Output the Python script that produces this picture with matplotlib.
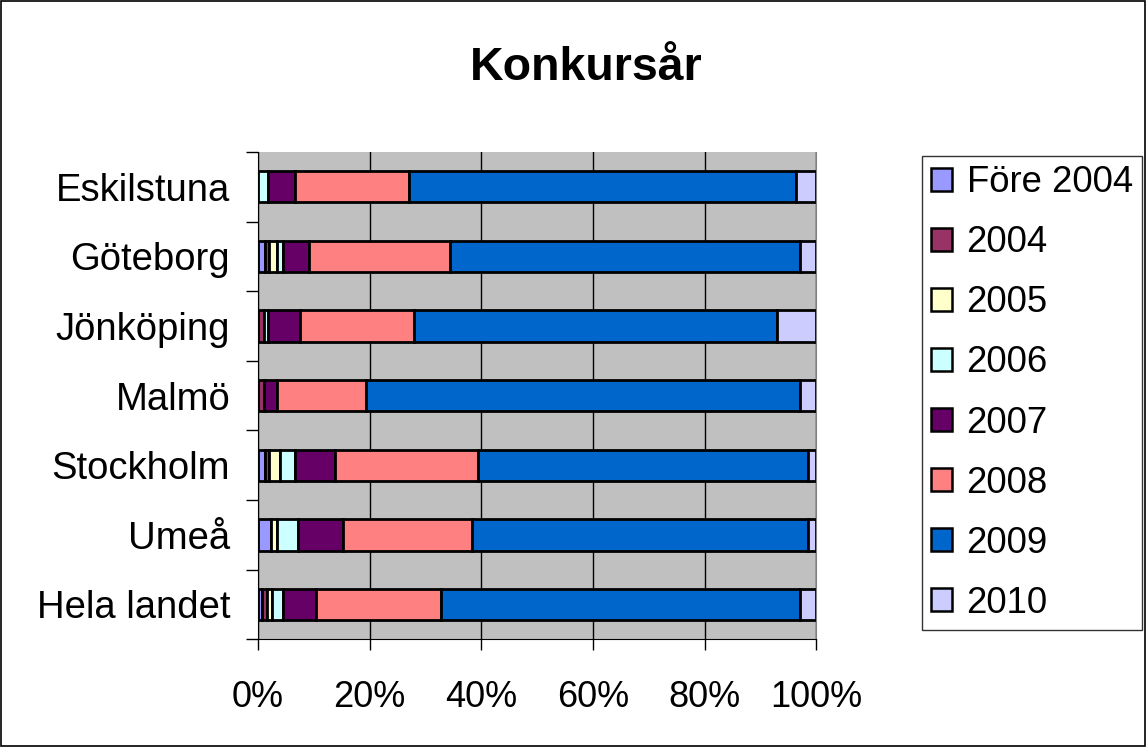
import matplotlib.pyplot as plt
import numpy as np
from matplotlib.patches import Rectangle
from matplotlib.ticker import MultipleLocator, FixedLocator, PercentFormatter

plt.rcParams['font.family'] = ['Liberation Sans', 'DejaVu Sans']

# andel konkurser per startår (%), en rad per ort
orter = ['Eskilstuna', 'Göteborg', 'Jönköping', 'Malmö', 'Stockholm', 'Umeå', 'Hela landet']
ar = ['Före 2004', '2004', '2005', '2006', '2007', '2008', '2009', '2010']
fore_2004 = [0.0, 1.2, 0.0, 0.0, 1.2, 2.4, 0.7]
ar_2004 = [0.0, 0.8, 1.0, 1.0, 0.8, 0.0, 0.9]
ar_2005 = [0.0, 1.4, 0.0, 0.0, 2.0, 1.0, 0.9]
ar_2006 = [1.8, 1.1, 0.8, 0.0, 2.6, 3.7, 2.0]
ar_2007 = [4.8, 4.6, 5.8, 2.4, 7.1, 8.1, 5.8]
ar_2008 = [20.4, 25.2, 20.4, 16.0, 25.7, 23.2, 22.5]
ar_2009 = [69.4, 62.7, 64.9, 77.6, 59.1, 60.1, 64.2]
ar_2010 = [3.6, 3.0, 7.1, 3.0, 1.5, 1.5, 3.0]
farger = ['#9999FF', '#993366', '#FFFFCC', '#CCFFFF', '#660066', '#FF8080', '#0066CC', '#CCCCFF']

serier = [fore_2004, ar_2004, ar_2005, ar_2006, ar_2007, ar_2008, ar_2009, ar_2010]

fig = plt.figure(figsize=(11.46, 7.47), dpi=100)
ax = fig.add_axes([258 / 1146, 1 - 639.3 / 747, 558.4 / 1146, 487.3 / 747])
ax.set_facecolor('#C0C0C0')

y = np.arange(len(orter))
left = np.zeros(len(orter))
for namn, vals, c in zip(ar, serier, farger):
    vals = np.array(vals) / 100
    ax.barh(y, vals, left=left, height=0.45, color=c, edgecolor='black',
            linewidth=2.0, label=namn, zorder=3)
    left += vals

ax.set_xlim(0, 1)
ax.set_ylim(len(orter) - 0.5, -0.5)
ax.xaxis.set_major_locator(MultipleLocator(0.2))
ax.xaxis.set_major_formatter(PercentFormatter(1.0, decimals=0))
ax.grid(axis='x', color='black', linewidth=1, zorder=1)
ax.set_yticks(y)
ax.set_yticklabels(orter)
ax.yaxis.set_minor_locator(FixedLocator(np.arange(-0.5, len(orter), 1)))
ax.tick_params(axis='y', which='major', length=0, pad=20, labelsize=27.5)
ax.tick_params(axis='y', which='minor', length=9, width=1, direction='out')
ax.tick_params(axis='x', length=8, width=1, direction='out', pad=21, labelsize=26)
ax.spines['top'].set_visible(False)
ax.spines['right'].set_color('#808080')
ax.spines['left'].set_color('black')
ax.spines['bottom'].set_color('black')

fig.text(586 / 1146, 1 - 68 / 747, 'Konkursår', ha='center', va='center',
         fontsize=33.5, fontweight='bold')

leg = fig.legend(loc='center left', bbox_to_anchor=(922 / 1146, 1 - 393 / 747),
                 fontsize=26.3, frameon=True, fancybox=False, edgecolor='black',
                 handlelength=0.58, handleheight=0.58, handletextpad=0.39,
                 labelspacing=0.685, borderpad=0.25, borderaxespad=0)
leg.get_frame().set_linewidth(1)
for h in leg.legend_handles:
    h.set_linewidth(1.8)

fig.patches.append(Rectangle((0.001, 0.001), 0.998, 0.998, transform=fig.transFigure,
                             fill=False, edgecolor='black', linewidth=1.2))

plt.savefig('out.png', dpi=100)
